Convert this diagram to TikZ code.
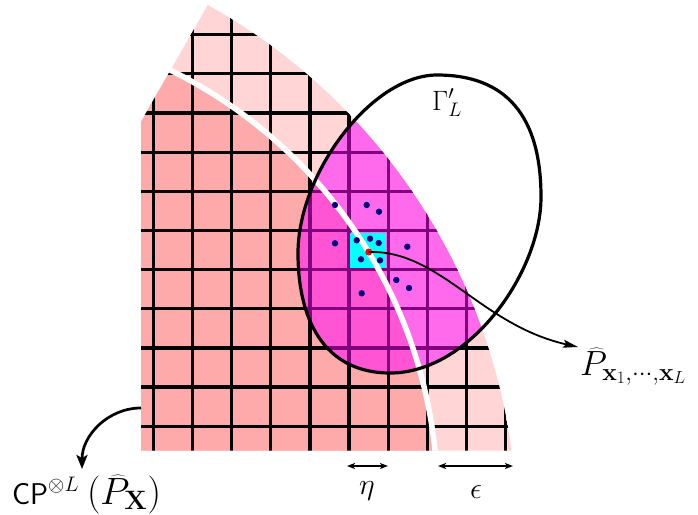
\RequirePackage{fix-cm}
\documentclass[tikz,border=0pt]{standalone}
\usetikzlibrary{arrows.meta}
\definecolor{darkpink}{HTML}{FFAAAA}
\definecolor{lightpink}{HTML}{FFD5D5}
\definecolor{darkmag}{HTML}{FF55D5}
\definecolor{lightmag}{HTML}{FF6AEC}
\definecolor{gridpurple}{HTML}{800080}
\definecolor{dotblue}{HTML}{000080}
\definecolor{mycyan}{HTML}{00FFFF}
\newcommand\mygrid[1]{%
  \foreach \i in {0,...,9}
    \draw[gridline,#1] ({153.3+39.15*\i},0) -- ({153.3+39.15*\i},460);
  \foreach \j in {0,...,10}
    \draw[gridline,#1] (130,{34.7+39.15*\j}) -- (520,{34.7+39.15*\j});}
\begin{document}
\begin{tikzpicture}[x=1pt,y=-1pt,
  gridline/.style={line width=3.2pt},
  bluedot/.style={circle,fill=dotblue,inner sep=0pt,minimum size=6.4pt},
  reddot/.style={circle,fill=red,inner sep=0pt,minimum size=7pt},
  lab/.style={inner sep=0pt,font=\fontsize{30}{36}\selectfont},
  thinarrow/.style={line width=1.8pt,-{Stealth[length=15pt,width=8pt,inset=3pt]}},
  bigarrow/.style={line width=2.7pt,-{Stealth[length=14pt,width=11pt,inset=3pt]}},
  dimarrow/.style={line width=1.8pt,{Stealth[length=8pt,width=6pt,inset=2pt]}-{Stealth[length=8pt,width=6pt,inset=2pt]}}]
\useasboundingbox (0,0) rectangle (698,514);
\def\regionpath{(141,450.5) -- (141,121.7) -- plot[domain=-60.9:-7.68,samples=90] ({-85+602*cos(\x)},{531+602*sin(\x)}) -- cycle}
\def\ellpath{(437,75) .. controls (507,75) and (541,117) .. (541,197) .. controls (541,272) and (470,373) .. (390,373) .. controls (330,373) and (298,328) .. (298,253) .. controls (298,173) and (372,75) .. (437,75) -- cycle}
% regions
\fill[lightpink] \regionpath;
\begin{scope}
  \clip \regionpath;
  \fill[darkpink] (-41.4,499.8) circle[radius=479];
  \mygrid{black}
  \begin{scope}
    \clip \ellpath;
    \fill[lightmag] (100,0) rectangle (600,460);
    \fill[darkmag] (-41.4,499.8) circle[radius=479];
    \mygrid{gridpurple}
  \end{scope}
  \fill[mycyan] (350.4,232.5) rectangle (386.3,268.4);
  \draw[white,line width=5.5pt] plot[domain=-66:-4,samples=90] ({-41.4+479*cos(\x)},{499.8+479*sin(\x)});
\end{scope}
% ellipse outline
\draw[line width=3.2pt] \ellpath;
% dots
\node[bluedot] (d1) at (335,205) {};
\node[bluedot] (d2) at (366.7,205) {};
\node[bluedot] (d3) at (379,211.7) {};
\node[bluedot] (d4) at (335,243.3) {};
\node[bluedot] (d5) at (356.7,240.3) {};
\node[bluedot] (d6) at (370,238.7) {};
\node[bluedot] (d7) at (378.7,243) {};
\node[bluedot] (d8) at (407.3,246.7) {};
\node[bluedot] (d9) at (361,259.3) {};
\node[bluedot] (d10) at (380,260.3) {};
\node[bluedot] (d11) at (396.3,280) {};
\node[bluedot] (d12) at (409,288) {};
\node[bluedot] (d13) at (361.7,293.3) {};
\node[reddot] (pt) at (368.7,252) {};
% labels
\node[lab,anchor=base west,font=\fontsize{28}{34}\selectfont] (gam) at (432,110) {$\Gamma'_L$};
\node[anchor=base west,inner sep=0pt] (cp) at (12,504)
  {\fontsize{30}{36}\selectfont$\mathsf{CP}^{\otimes L}$\hspace{8pt}\fontsize{38}{45}\selectfont$(\widehat{P}_{\mathbf{X}})$};
\node[lab,anchor=base west,font=\fontsize{35}{42}\selectfont] (plab) at (580,375) {$\widehat{P}_{\mathbf{x}_1,\cdots,\mathbf{x}_L}$};
\node[lab] (eta) at (367,491) {$\eta$};
\node[lab] (eps) at (476,492) {$\epsilon$};
% connectors
\coordinate (ptip) at (578,347);
\draw[thinarrow] (pt.center) .. controls (440,250) and (480,325) .. (ptip);
\coordinate (cpstart) at (141,408);
\coordinate (cpend) at (82,469);
\draw[bigarrow] (cpstart) to[out=180,in=90] (cpend);
\coordinate (ea) at (347,466);
\coordinate (eb) at (388,466);
\draw[dimarrow] (ea) -- (eb);
\coordinate (xa) at (438,466);
\coordinate (xb) at (513,466);
\draw[dimarrow] (xa) -- (xb);
\end{tikzpicture}
\end{document}
